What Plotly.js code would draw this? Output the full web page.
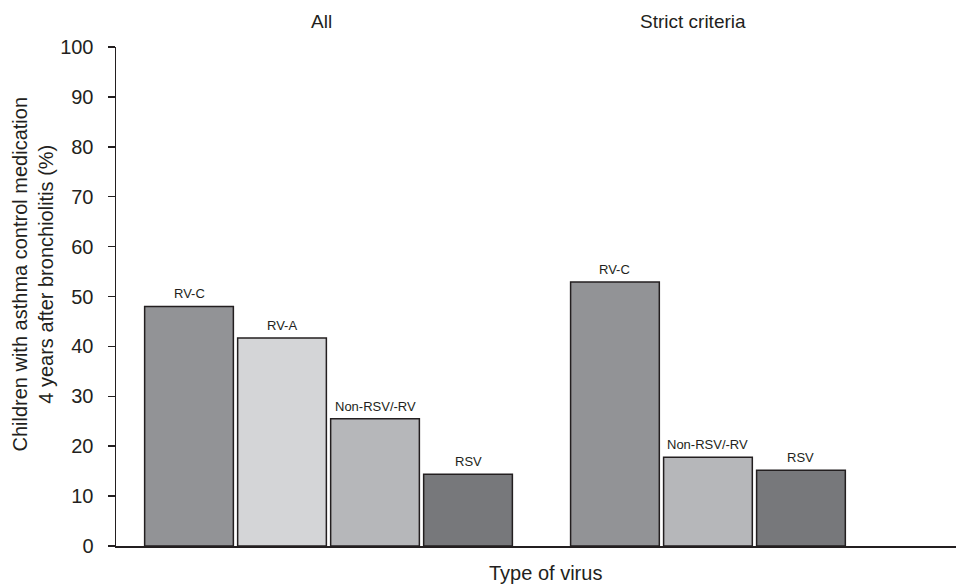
<!DOCTYPE html>
<html>
<head>
<meta charset="utf-8">
<script src="https://cdn.plot.ly/plotly-3.0.1.min.js"></script>
<style>html,body{margin:0;padding:0;background:#fff;}#chart{width:956px;height:585px;}</style>
</head>
<body>
<div id="chart"></div>
<script>
// ---- data ----
const groupTitles = ["All", "Strict criteria"];
const allViruses = ["RV-C", "RV-A", "Non-RSV/-RV", "RSV"];
const allValues = [48, 41.7, 25.5, 14.4];
const strictViruses = ["RV-C", "Non-RSV/-RV", "RSV"];
const strictValues = [52.9, 17.8, 15.2];
const yTickValues = [0, 10, 20, 30, 40, 50, 60, 70, 80, 90, 100];
const yTitle = "Children with asthma control medication<br>4 years after bronchiolitis (%)";
const xTitle = "Type of virus";

// ---- styles ----
const virusColors = {"RV-C": "#929396", "RV-A": "#d4d5d7", "Non-RSV/-RV": "#b6b7ba", "RSV": "#77787b"};
const ink = "#231f20";
const fontFamily = "Liberation Sans, Arial, sans-serif";
const groupStarts = [0, 4.58];
const barWidth = 0.954;

const groups = [
  {names: allViruses, values: allValues},
  {names: strictViruses, values: strictValues}
];

const traces = groups.map((g, gi) => ({
  type: "bar",
  x: g.names.map((_, i) => groupStarts[gi] + i),
  y: g.values,
  width: g.names.map(() => barWidth),
  marker: {color: g.names.map(n => virusColors[n]), line: {color: ink, width: 1.5}},
  hoverinfo: "skip",
  showlegend: false,
  cliponaxis: false
}));

const annotations = [];
groups.forEach((g, gi) => {
  g.names.forEach((n, i) => {
    annotations.push({
      x: groupStarts[gi] + i, y: g.values[i], xref: "x", yref: "y",
      text: n, showarrow: false, yanchor: "bottom", yshift: 3,
      font: {size: 13, color: ink, family: fontFamily}
    });
  });
});
const titleX = [0.245, 0.687];
groupTitles.forEach((t, i) => {
  annotations.push({
    x: titleX[i], y: 1.052, xref: "paper", yref: "paper", text: t, showarrow: false,
    xanchor: "center", yanchor: "middle", font: {size: 19, color: ink, family: fontFamily}
  });
});
annotations.push({
  x: 0.511, y: -0.054, xref: "paper", yref: "paper", text: xTitle, showarrow: false,
  xanchor: "center", yanchor: "middle", font: {size: 20, color: ink, family: fontFamily}
});
annotations.push({
  x: -0.0982, y: 0.545, xref: "paper", yref: "paper", text: yTitle, showarrow: false,
  textangle: -90, xanchor: "center", yanchor: "middle", align: "center",
  font: {size: 20, color: ink, family: fontFamily}
});

const layout = {
  width: 956, height: 585,
  margin: {l: 116, r: 0, t: 47, b: 39, pad: 0},
  paper_bgcolor: "#fff", plot_bgcolor: "#fff",
  font: {family: fontFamily, color: ink, size: 20},
  bargap: 0,
  xaxis: {
    range: [-0.785, 8.247], showline: true, linecolor: ink, linewidth: 1.5,
    showticklabels: false, ticks: "", showgrid: false, zeroline: false, fixedrange: true
  },
  yaxis: {
    range: [0, 100], tickvals: yTickValues, ticktext: yTickValues.map(String),
    showline: true, linecolor: ink, linewidth: 1.5,
    ticks: "outside", ticklen: 7, tickwidth: 1.5, tickcolor: ink,
    ticklabelstandoff: 10,
    tickfont: {size: 20, color: ink, family: fontFamily},
    showgrid: false, zeroline: false, fixedrange: true
  },
  annotations: annotations
};

Plotly.newPlot("chart", traces, layout, {displayModeBar: false, staticPlot: true});
</script>
</body>
</html>
